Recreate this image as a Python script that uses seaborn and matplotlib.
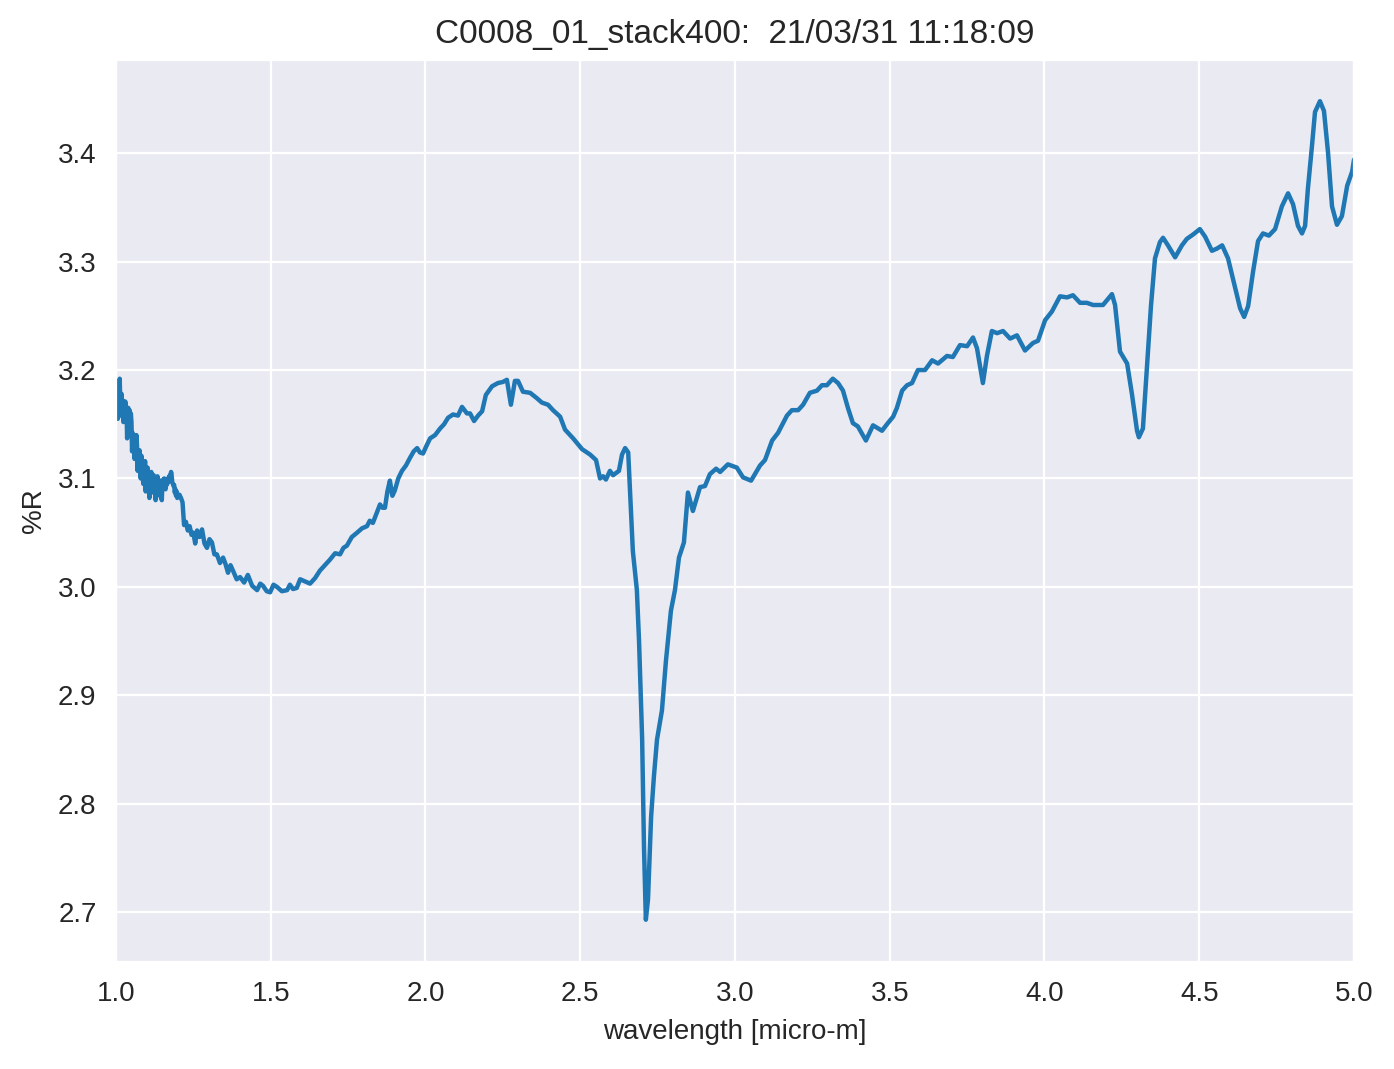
import matplotlib
matplotlib.use("Agg")
import matplotlib.pyplot as plt
import seaborn as sns
import pandas as pd

title = "C0008_01_stack400:  21/03/31 11:18:09"
xlabel = "wavelength [micro-m]"
ylabel = "%R"

# noisy short-wavelength part (1.000 - 1.200 um)
wavelength_noisy = [
    1.000, 1.002, 1.004, 1.006, 1.008, 1.010, 1.012, 1.014, 1.016, 1.018,
    1.020, 1.022, 1.024, 1.026, 1.028, 1.030, 1.032, 1.034, 1.036, 1.038,
    1.040, 1.042, 1.044, 1.046, 1.048, 1.050, 1.052, 1.054, 1.056, 1.058,
    1.060, 1.062, 1.064, 1.066, 1.068, 1.070, 1.072, 1.074, 1.076, 1.078,
    1.080, 1.082, 1.084, 1.086, 1.088, 1.090, 1.092, 1.094, 1.096, 1.098,
    1.100, 1.102, 1.104, 1.106, 1.108, 1.110, 1.112, 1.114, 1.116, 1.118,
    1.120, 1.122, 1.124, 1.126, 1.128, 1.130, 1.132, 1.134, 1.136, 1.138,
    1.140, 1.142, 1.144, 1.146, 1.148, 1.150, 1.152, 1.154, 1.156, 1.158,
    1.160, 1.162, 1.164, 1.166, 1.168, 1.170, 1.172, 1.174, 1.176, 1.178,
    1.180, 1.182, 1.184, 1.186, 1.188, 1.190, 1.192, 1.194, 1.196, 1.198,
]
reflectance_noisy = [
    3.178, 3.160, 3.182, 3.155, 3.176, 3.166, 3.192, 3.170, 3.158, 3.178,
    3.165, 3.172, 3.152, 3.168, 3.160, 3.171, 3.158, 3.166, 3.137, 3.150,
    3.165, 3.155, 3.163, 3.148, 3.160, 3.152, 3.125, 3.142, 3.130, 3.140,
    3.118, 3.136, 3.127, 3.140, 3.130, 3.107, 3.124, 3.112, 3.126, 3.118,
    3.100, 3.121, 3.108, 3.115, 3.095, 3.112, 3.103, 3.116, 3.088, 3.108,
    3.098, 3.110, 3.092, 3.104, 3.082, 3.101, 3.094, 3.106, 3.087, 3.100,
    3.093, 3.103, 3.089, 3.099, 3.080, 3.097, 3.090, 3.102, 3.092, 3.099,
    3.095, 3.090, 3.083, 3.092, 3.080, 3.095, 3.099, 3.092, 3.100, 3.094,
    3.090, 3.096, 3.094, 3.099, 3.096, 3.101, 3.098, 3.103, 3.100, 3.106,
    3.102, 3.096, 3.095, 3.093, 3.094, 3.087, 3.090, 3.084, 3.088, 3.082,
]

# remainder of the spectrum (1.205 - 5.000 um)
wavelength_main = [
    1.205, 1.210,
    1.215, 1.220, 1.226, 1.232, 1.238, 1.244, 1.250, 1.256, 1.262, 1.270,
    1.278, 1.286, 1.294, 1.302, 1.310, 1.318, 1.326, 1.336, 1.346, 1.354,
    1.362, 1.370, 1.378, 1.390, 1.401, 1.414, 1.426, 1.440, 1.456, 1.466,
    1.475, 1.487, 1.498, 1.509, 1.520, 1.536, 1.553, 1.562, 1.572, 1.584,
    1.595, 1.611, 1.627, 1.643, 1.659, 1.675, 1.691, 1.708, 1.724, 1.735,
    1.746, 1.762, 1.779, 1.795, 1.811, 1.820, 1.830, 1.842, 1.853, 1.861,
    1.869, 1.877, 1.885, 1.893, 1.901, 1.912, 1.924, 1.937, 1.950, 1.962,
    1.973, 1.982, 1.992, 2.003, 2.015, 2.031, 2.047, 2.060, 2.073, 2.089,
    2.105, 2.118, 2.134, 2.144, 2.157, 2.170, 2.183, 2.195, 2.215, 2.234,
    2.250, 2.263, 2.276, 2.289, 2.299, 2.315, 2.338, 2.360, 2.376, 2.396,
    2.412, 2.435, 2.451, 2.477, 2.506, 2.532, 2.551, 2.564, 2.574, 2.583,
    2.596, 2.606, 2.625, 2.635, 2.645, 2.655, 2.670, 2.683, 2.690, 2.700,
    2.706, 2.712, 2.719, 2.729, 2.738, 2.748, 2.764, 2.777, 2.793, 2.806,
    2.819, 2.835, 2.848, 2.864, 2.887, 2.903, 2.919, 2.939, 2.952, 2.977,
    3.006, 3.026, 3.052, 3.081, 3.097, 3.120, 3.139, 3.168, 3.184, 3.204,
    3.220, 3.242, 3.265, 3.281, 3.297, 3.316, 3.333, 3.349, 3.365, 3.381,
    3.397, 3.423, 3.446, 3.475, 3.491, 3.511, 3.523, 3.540, 3.556, 3.572,
    3.591, 3.614, 3.637, 3.656, 3.685, 3.704, 3.727, 3.750, 3.769, 3.782,
    3.801, 3.814, 3.830, 3.847, 3.866, 3.889, 3.911, 3.937, 3.963, 3.979,
    4.002, 4.024, 4.050, 4.073, 4.092, 4.115, 4.137, 4.157, 4.189, 4.218,
    4.228, 4.244, 4.267, 4.283, 4.299, 4.305, 4.318, 4.331, 4.344, 4.357,
    4.373, 4.383, 4.399, 4.422, 4.444, 4.460, 4.480, 4.502, 4.519, 4.541,
    4.557, 4.574, 4.593, 4.609, 4.632, 4.645, 4.658, 4.674, 4.690, 4.706,
    4.725, 4.745, 4.767, 4.787, 4.803, 4.819, 4.832, 4.842, 4.851, 4.864,
    4.874, 4.890, 4.903, 4.916, 4.929, 4.945, 4.961, 4.978, 4.994, 5.000,
]
reflectance_main = [
    3.085, 3.082,
    3.078, 3.057, 3.060, 3.052, 3.056, 3.048, 3.050, 3.040, 3.052, 3.046,
    3.053, 3.040, 3.036, 3.044, 3.041, 3.030, 3.030, 3.022, 3.027, 3.021,
    3.013, 3.020, 3.015, 3.007, 3.009, 3.004, 3.011, 3.001, 2.997, 3.003,
    3.001, 2.996, 2.995, 3.002, 3.000, 2.996, 2.997, 3.002, 2.998, 2.999,
    3.007, 3.005, 3.003, 3.008, 3.015, 3.020, 3.025, 3.031, 3.030, 3.036,
    3.038, 3.046, 3.050, 3.054, 3.056, 3.061, 3.059, 3.068, 3.076, 3.073,
    3.073, 3.088, 3.098, 3.084, 3.089, 3.100, 3.107, 3.112, 3.119, 3.125,
    3.128, 3.124, 3.123, 3.130, 3.137, 3.140, 3.146, 3.150, 3.156, 3.159,
    3.158, 3.166, 3.160, 3.160, 3.153, 3.158, 3.162, 3.177, 3.185, 3.188,
    3.189, 3.191, 3.168, 3.190, 3.190, 3.180, 3.179, 3.174, 3.170, 3.168,
    3.163, 3.157, 3.145, 3.137, 3.127, 3.122, 3.117, 3.100, 3.102, 3.099,
    3.107, 3.103, 3.107, 3.122, 3.128, 3.124, 3.033, 2.997, 2.950, 2.860,
    2.760, 2.693, 2.712, 2.788, 2.825, 2.859, 2.886, 2.932, 2.978, 2.997,
    3.027, 3.041, 3.087, 3.070, 3.092, 3.093, 3.104, 3.109, 3.106, 3.113,
    3.110, 3.101, 3.098, 3.112, 3.117, 3.135, 3.142, 3.158, 3.163, 3.163,
    3.168, 3.179, 3.181, 3.186, 3.186, 3.192, 3.188, 3.181, 3.165, 3.151,
    3.148, 3.135, 3.149, 3.144, 3.150, 3.157, 3.165, 3.181, 3.186, 3.188,
    3.200, 3.200, 3.209, 3.206, 3.213, 3.212, 3.223, 3.222, 3.230, 3.220,
    3.188, 3.213, 3.236, 3.234, 3.236, 3.229, 3.232, 3.218, 3.225, 3.227,
    3.246, 3.254, 3.268, 3.267, 3.269, 3.262, 3.262, 3.260, 3.260, 3.270,
    3.260, 3.217, 3.206, 3.177, 3.144, 3.138, 3.146, 3.202, 3.259, 3.303,
    3.318, 3.322, 3.315, 3.304, 3.315, 3.321, 3.325, 3.330, 3.323, 3.310,
    3.312, 3.315, 3.303, 3.284, 3.257, 3.249, 3.259, 3.291, 3.319, 3.326,
    3.324, 3.330, 3.351, 3.363, 3.353, 3.333, 3.326, 3.333, 3.367, 3.406,
    3.438, 3.448, 3.439, 3.401, 3.351, 3.334, 3.342, 3.370, 3.383, 3.394,
]

df = pd.DataFrame({
    "wavelength": wavelength_noisy + wavelength_main,
    "R": reflectance_noisy + reflectance_main,
})

sns.set_style("darkgrid")
plt.rcParams["font.family"] = ["Liberation Sans", "DejaVu Sans"]

fig, ax = plt.subplots(figsize=(6.97, 5.345), dpi=200)
fig.subplots_adjust(left=0.0832, right=0.9713, top=0.9439, bottom=0.1001)

sns.lineplot(data=df, x="wavelength", y="R", ax=ax, color="#1f77b4",
             linewidth=1.6, sort=False, estimator=None)

ax.set_xlim(1.0, 5.0)
ax.set_ylim(2.654, 3.486)
ax.set_title(title, fontsize=12)
ax.set_xlabel(xlabel, fontsize=10)
ax.set_ylabel(ylabel, fontsize=10)
ax.tick_params(labelsize=10)

fig.savefig("out.png", dpi=200)
